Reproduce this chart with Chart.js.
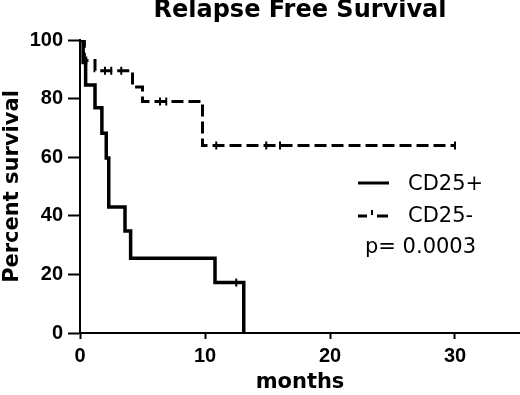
<!DOCTYPE html>
<html lang="en">
<head>
    <meta charset="UTF-8">
    <title>Relapse Free Survival</title>
    <script src="https://cdn.jsdelivr.net/npm/chart.js"></script>
    <style>
        body { margin: 0; background: #fff; }
    </style>
</head>
<body>
    <canvas id="myChart" width="520" height="395"></canvas>

    <script>
        // Curva CD25+ (passos de Kaplan-Meier)
        const posMonths = [0, 0.25, 0.45, 1.2, 1.75, 2.1, 2.3, 3.6, 4.05, 10.8, 13.1];
        const posSurvival = [100, 92.3, 84.6, 76.9, 68.2, 59.7, 43.0, 34.8, 25.5, 17.2, 0];
        const posCensorMonths = [12.5];
        const posCensorSurvival = [17.2];

        // Curva CD25-
        const negMonths = [0, 0.35, 1.2, 4.2, 5.0, 9.8, 30];
        const negSurvival = [100, 93.0, 89.5, 84.0, 79.0, 64.0, 64.0];
        const negCensorMonths = [0.5, 2.0, 2.5, 3.3, 6.4, 6.9, 10.9, 14.9, 16.0, 30];
        const negCensorSurvival = [93.0, 89.5, 89.5, 89.5, 79.0, 79.0, 64.0, 64.0, 64.0, 64.0];

        const xTicks = [0, 10, 20, 30];
        const yTicks = [0, 20, 40, 60, 80, 100];

        const legendLabels = ["CD25+", "CD25-"];
        const pValueText = "p= 0.0003";

        function toPoints(xs, ys) {
            return xs.map((x, i) => ({ x: x, y: ys[i] }));
        }

        // Legenda desenhada no canvas
        const legendPlugin = {
            id: "kmLegend",
            afterDraw(chart) {
                const ctx = chart.ctx;
                ctx.save();
                ctx.strokeStyle = "#000";
                ctx.fillStyle = "#000";
                ctx.lineWidth = 3;

                // linha cheia
                ctx.beginPath();
                ctx.moveTo(358, 183);
                ctx.lineTo(389, 183);
                ctx.stroke();

                // linha tracejada com marca
                ctx.beginPath();
                ctx.moveTo(358, 216);
                ctx.lineTo(367, 216);
                ctx.moveTo(377, 216);
                ctx.lineTo(388, 216);
                ctx.stroke();
                ctx.lineWidth = 2;
                ctx.beginPath();
                ctx.moveTo(372, 210);
                ctx.lineTo(372, 215);
                ctx.stroke();

                ctx.font = "21px 'DejaVu Sans'";
                ctx.textBaseline = "middle";
                ctx.textAlign = "left";
                ctx.fillText(legendLabels[0], 408, 185);
                ctx.fillText(legendLabels[1], 408, 217);
                ctx.fillText(pValueText, 365, 248);
                ctx.restore();
            }
        };

        const tickFont = { family: "'Liberation Sans', Arial, sans-serif", size: 20, weight: "bold" };

        const ctx = document.getElementById("myChart").getContext("2d");
        let myChart = new Chart(ctx, {
            type: "line",
            data: {
                datasets: [
                    {
                        label: legendLabels[0],
                        data: toPoints(posMonths, posSurvival),
                        borderColor: "#000",
                        borderWidth: 3.5,
                        stepped: "before",
                        pointRadius: 0,
                        fill: false
                    },
                    {
                        label: legendLabels[1],
                        data: toPoints(negMonths, negSurvival),
                        borderColor: "#000",
                        borderWidth: 3,
                        borderDash: [12, 5],
                        stepped: "before",
                        pointRadius: 0,
                        fill: false
                    },
                    {
                        label: "censor+",
                        data: toPoints(posCensorMonths, posCensorSurvival),
                        showLine: false,
                        pointStyle: "line",
                        rotation: 90,
                        pointRadius: 4,
                        borderColor: "#000",
                        borderWidth: 2
                    },
                    {
                        label: "censor-",
                        data: toPoints(negCensorMonths, negCensorSurvival),
                        showLine: false,
                        pointStyle: "line",
                        rotation: 90,
                        pointRadius: 4,
                        borderColor: "#000",
                        borderWidth: 2
                    }
                ]
            },
            options: {
                responsive: false,
                animation: false,
                layout: { padding: 0, autoPadding: false },
                plugins: {
                    legend: { display: false },
                    tooltip: { enabled: false },
                    title: {
                        display: true,
                        fullSize: false,
                        text: "Relapse Free Survival",
                        color: "#000",
                        font: { family: "'DejaVu Sans'", size: 24, weight: "bold", lineHeight: 1 },
                        padding: { top: -1, bottom: 17 }
                    }
                },
                scales: {
                    x: {
                        type: "linear",
                        min: 0,
                        max: 35.2,
                        afterBuildTicks: (axis) => { axis.ticks = xTicks.map(v => ({ value: v })); },
                        afterFit: (axis) => { axis.height = 62; },
                        grid: {
                            drawOnChartArea: false,
                            tickLength: 6,
                            tickColor: "#000",
                            tickWidth: 2
                        },
                        border: { color: "#000", width: 2 },
                        ticks: {
                            color: "#000",
                            padding: 5,
                            font: tickFont
                        },
                        title: {
                            display: true,
                            text: "months",
                            color: "#000",
                            font: { family: "'DejaVu Sans'", size: 21, weight: "bold" },
                            padding: { top: 2, bottom: 0 }
                        }
                    },
                    y: {
                        min: 0,
                        max: 100,
                        afterBuildTicks: (axis) => { axis.ticks = yTicks.map(v => ({ value: v })); },
                        afterFit: (axis) => { axis.width = 80; },
                        grid: {
                            drawOnChartArea: false,
                            tickLength: 12,
                            tickColor: "#000",
                            tickWidth: 2
                        },
                        border: { color: "#000", width: 2 },
                        ticks: {
                            color: "#000",
                            padding: 5,
                            font: tickFont
                        },
                        title: {
                            display: true,
                            text: "Percent survival",
                            color: "#000",
                            font: { family: "'DejaVu Sans'", size: 21, weight: "bold" },
                            padding: { top: 0, bottom: 0 }
                        }
                    }
                }
            },
            plugins: [legendPlugin]
        });
    </script>
</body>
</html>
